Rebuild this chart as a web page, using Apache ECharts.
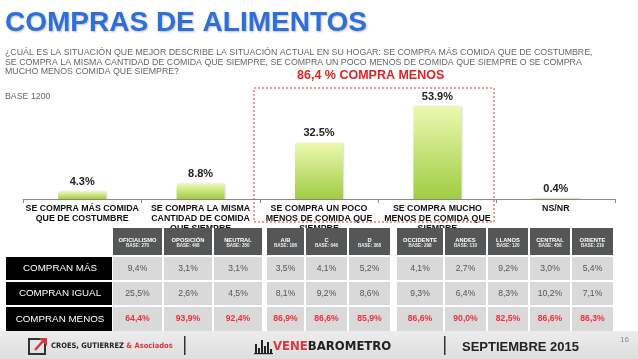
<!DOCTYPE html>
<html><head><meta charset="utf-8">
<script src="https://cdn.jsdelivr.net/npm/echarts@6/dist/echarts.min.js"></script>
<style>html,body{margin:0;padding:0;background:#fff}#c{width:638px;height:359px}</style>
</head><body><div id="c"></div>
<script>
const categories = [
  'SE COMPRA MÁS COMIDA\nQUE DE COSTUMBRE',
  'SE COMPRA LA MISMA\nCANTIDAD DE COMIDA\nQUE SIEMPRE',
  'SE COMPRA UN POCO\nMENOS DE COMIDA QUE\nSIEMPRE',
  'SE COMPRA MUCHO\nMENOS DE COMIDA QUE\nSIEMPRE',
  'NS/NR'
];
const values = [4.3, 8.8, 32.5, 53.9, 0.4];
const titleText = 'COMPRAS DE ALIMENTOS';
const questionLines = [
  '¿CUÁL ES LA SITUACIÓN QUE MEJOR DESCRIBE LA SITUACIÓN ACTUAL EN SU HOGAR: SE COMPRA MÁS COMIDA QUE DE COSTUMBRE,',
  'SE COMPRA LA MISMA CANTIDAD DE COMIDA QUE SIEMPRE, SE COMPRA UN POCO MENOS DE COMIDA QUE SIEMPRE O SE COMPRA',
  'MUCHO MENOS COMIDA QUE SIEMPRE?'
];
const baseText = 'BASE 1200';
const highlightText = '86,4 % COMPRA MENOS';
const colNames = [['OFICIALISMO','OPOSICIÓN','NEUTRAL'],['A/B','C','D'],['OCCIDENTE','ANDES','LLANOS','CENTRAL','ORIENTE']];
const colBases = [['270','468','350'],['186','646','368'],['298','110','120','456','216']];
const rowLabels = ['COMPRAN MÁS','COMPRAN IGUAL','COMPRAN MENOS'];
const rowMas   = ['9,4%','3,1%','3,1%','3,5%','4,1%','5,2%','4,1%','2,7%','9,2%','3,0%','5,4%'];
const rowIgual = ['25,5%','2,6%','4,5%','8,1%','9,2%','8,6%','9,3%','6,4%','8,3%','10,2%','7,1%'];
const rowMenos = ['64,4%','93,9%','92,4%','86,9%','86,6%','85,9%','86,6%','90,0%','82,5%','86,6%','86,3%'];
const footerDate = 'SEPTIEMBRE 2015';
const pageNum = '16';

// ---- layout (styling) ----
const groupStarts = [113, 267, 397];
const colW = [[49,48,48],[37,41,41],[46,41,40,40,41]];
const colGap = 2;
const rowTops = [257, 282, 307];
const rowH = [23, 23, 24];
const headTop = 228, headH = 27;

const g = [];
g.push({type:'text', left:5, top:9, z:20, style:{text:titleText, font:'bold 28px "Liberation Sans", Arial', fill:'#2f6fdc', textShadowColor:'rgba(0,0,0,0.25)', textShadowBlur:2, textShadowOffsetX:1, textShadowOffsetY:1}});
questionLines.forEach((t,i)=>g.push({type:'text', left:5, top:48+i*9.6, z:20, style:{text:t, font:'8.8px "Liberation Sans", Arial', fill:'#666'}}));
g.push({type:'text', left:5, top:92, z:20, style:{text:baseText, font:'8.8px "Liberation Sans", Arial', fill:'#666'}});
g.push({type:'text', left:297, top:69, z:20, style:{text:highlightText, font:'bold 12.5px "Liberation Sans", Arial', fill:'#e02424'}});
g.push({type:'rect', z:20, shape:{x:254, y:88, width:240, height:134}, style:{fill:'none', stroke:'#d9363e', lineWidth:1, lineDash:[2,2]}});

g.push({type:'rect', z:5, shape:{x:0, y:331, width:638, height:28}, style:{fill:new echarts.graphic.LinearGradient(0,0,0,1,[{offset:0,color:'#ececec'},{offset:1,color:'#dedede'}])}});

const allRows = [rowMas, rowIgual, rowMenos];
g.push({type:'rect', z:10, shape:{x:0, y:headTop, width:638, height:headH+3}, style:{fill:'#fff'}});
rowLabels.forEach((lab,r)=>{
  g.push({type:'rect', z:10, shape:{x:6, y:rowTops[r], width:106, height:rowH[r]}, style:{fill:'#000'}});
  g.push({type:'text', z:11, x:60, y:rowTops[r]+rowH[r]/2, style:{text:lab, font:'9.8px "Liberation Sans", Arial', fill:'#fff', align:'center', verticalAlign:'middle'}});
});
let ci = 0;
colNames.forEach((grp,gi)=>{
  let x = groupStarts[gi];
  grp.forEach((nm,k)=>{
    const w = colW[gi][k];
    g.push({type:'rect', z:10, shape:{x:x, y:headTop, width:w, height:headH}, style:{fill:'#555657'}});
    g.push({type:'text', z:11, x:x+w/2, y:headTop+12, style:{text:nm, font:'bold 5.8px "Liberation Sans", Arial', fill:'#fff', align:'center', verticalAlign:'middle'}});
    g.push({type:'text', z:11, x:x+w/2, y:headTop+18, style:{text:'BASE: '+colBases[gi][k], font:'bold 4.6px "Liberation Sans", Arial', fill:'#eee', align:'center', verticalAlign:'middle'}});
    allRows.forEach((row,r)=>{
      g.push({type:'rect', z:10, shape:{x:x, y:rowTops[r], width:w, height:rowH[r]}, style:{fill:'#d9d9d9'}});
      g.push({type:'text', z:11, x:x+w/2, y:rowTops[r]+rowH[r]/2, style:{text:row[ci], font:(r===2?'bold ':'')+'8.6px "Liberation Sans", Arial', fill:r===2?'#e8323a':'#555', align:'center', verticalAlign:'middle'}});
    });
    x += w + colGap; ci++;
  });
});

g.push({type:'rect', z:12, shape:{x:29, y:339, width:16, height:15}, style:{fill:'none', stroke:'#333', lineWidth:2}});
g.push({type:'polyline', z:12, shape:{points:[[35,350],[44,340]]}, style:{stroke:'#d9363e', lineWidth:2.5}});
g.push({type:'polygon', z:12, shape:{points:[[39,338],[47,338],[47,346]]}, style:{fill:'#d9363e'}});
g.push({type:'text', z:12, left:51, top:342, style:{rich:{a:{font:'bold 7.5px "DejaVu Sans Condensed", "Liberation Sans Narrow", Arial', fill:'#222'}, b:{font:'bold 7.5px "DejaVu Sans Condensed", "Liberation Sans Narrow", Arial', fill:'#d9363e'}}, text:'{a|CROES, GUTIERREZ }{b|& Asociados}'}});
g.push({type:'rect', z:12, shape:{x:184, y:336, width:1.5, height:19}, style:{fill:'#333'}});
g.push({type:'rect', z:12, shape:{x:444, y:336, width:1.5, height:19}, style:{fill:'#333'}});
[[255,9],[258,5],[261,13],[264,7],[267,11],[270,4]].forEach(b=>g.push({type:'rect', z:12, shape:{x:b[0], y:353-b[1], width:2, height:b[1]}, style:{fill:'#222'}}));
g.push({type:'rect', z:12, shape:{x:254, y:353, width:19, height:1.2}, style:{fill:'#222'}});
g.push({type:'text', z:12, left:273, top:340, style:{rich:{a:{font:'bold 13px "DejaVu Sans Condensed", "Liberation Sans Narrow", Arial', fill:'#d9363e'}, b:{font:'bold 13px "DejaVu Sans Condensed", "Liberation Sans Narrow", Arial', fill:'#222'}}, text:'{a|VENE}{b|BAROMETRO}'}});
g.push({type:'text', z:12, left:462, top:341, style:{text:footerDate, font:'bold 13px "Liberation Sans", Arial', fill:'#222'}});
g.push({type:'text', z:12, left:620, top:336, style:{text:pageNum, font:'8px "Liberation Sans", Arial', fill:'#888'}});

const chart = echarts.init(document.getElementById('c'), null, {renderer:'canvas'});
chart.setOption({
  animation:false,
  backgroundColor:'#fff',
  grid:{left:23, right:23, top:95.5, bottom:160},
  xAxis:{type:'category', data:categories,
    axisLine:{lineStyle:{color:'#8a8a8a', width:1}},
    axisTick:{show:true, alignWithLabel:false, length:4, lineStyle:{color:'#8a8a8a'}},
    axisLabel:{interval:0, margin:5, color:'#111', fontWeight:'bold', fontSize:8.8, lineHeight:10, fontFamily:'"Liberation Sans", Arial'}},
  yAxis:{type:'value', min:0, max:60, show:false, splitLine:{show:false}},
  series:[{type:'bar', data:values, barWidth:48,
    itemStyle:{borderRadius:[2,2,0,0], color:new echarts.graphic.LinearGradient(0,0,0,1,[{offset:0,color:'#ecf8b0'},{offset:1,color:'#9fcd44'}]),
      shadowColor:'rgba(0,0,0,0.15)', shadowBlur:2, shadowOffsetX:1, shadowOffsetY:0},
    label:{show:true, position:'top', distance:4, formatter:'{c}%', color:'#222', fontWeight:'bold', fontSize:11, fontFamily:'"Liberation Sans", Arial'}}],
  graphic:{elements:g}
});
</script></body></html>
